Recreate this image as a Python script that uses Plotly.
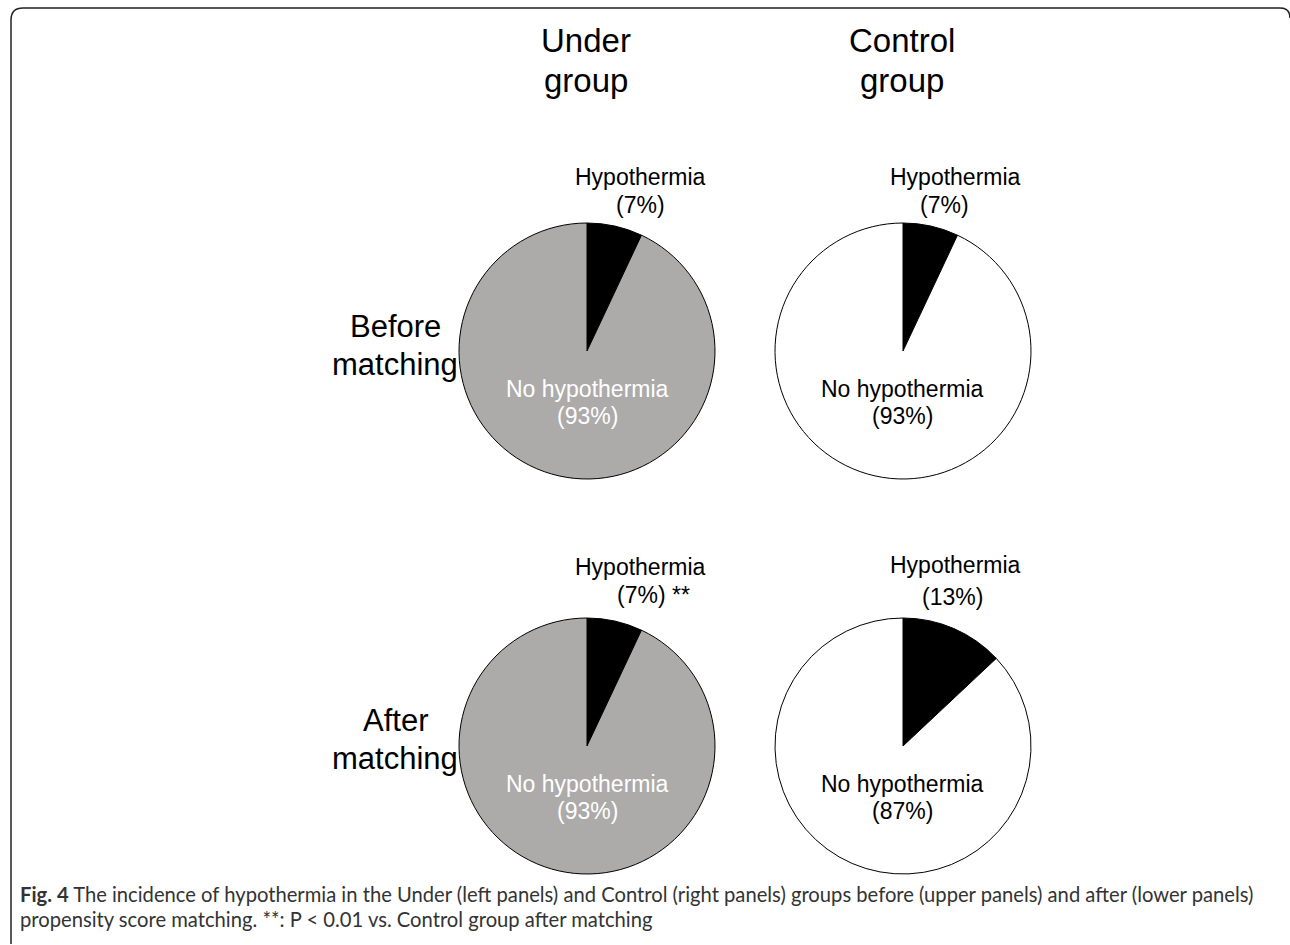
import plotly.graph_objects as go

W, H = 1290, 945

# ---- data ----
groups = ["Under\ngroup", "Control\ngroup"]
rows = ["Before\nmatching", "After\nmatching"]
slice_labels = ["Hypothermia", "No hypothermia"]
under_before = [7, 93]
control_before = [7, 93]
under_after = [7, 93]
control_after = [13, 87]
hypo_text = ["(7%)", "(7%)", "(7%) **", "(13%)"]
nohypo_text = ["(93%)", "(93%)", "(93%)", "(87%)"]
caption1 = ("<b>Fig. 4</b> The incidence of hypothermia in the Under (left panels) and Control (right panels) "
            "groups before (upper panels) and after (lower panels)")
caption2 = "propensity score matching. **: P &lt; 0.01 vs. Control group after matching"

GRAY = "#adaaaa"
ARIAL = "Liberation Sans, Arial, sans-serif"
CAPFONT = "Lato, Open Sans, sans-serif"

def px(x):
    return x / W

def py(y):
    return 1 - y / H

fig = go.Figure()

# pie centres (pixels) and radius
R = 128
centres = [(587, 351), (903, 351), (587, 746), (903, 746)]
values = [under_before, control_before, under_after, control_after]
fills = [GRAY, "white", GRAY, "white"]

for (cx, cy), vals, fill in zip(centres, values, fills):
    fig.add_trace(go.Pie(
        labels=slice_labels, values=vals, sort=False, direction="clockwise", rotation=0,
        marker=dict(colors=["black", fill], line=dict(color="black", width=1)),
        textinfo="none", hoverinfo="label+percent", showlegend=False,
        domain=dict(x=[px(cx - R), px(cx + R)], y=[py(cy + R), py(cy - R)]),
    ))

ann = []

def add_text(x, baseline, text, size, color="black", family=ARIAL, xanchor="center"):
    ann.append(dict(x=px(x), y=py(baseline - 0.35 * size), xref="paper", yref="paper",
                    text=text, showarrow=False, xanchor=xanchor, yanchor="middle",
                    font=dict(family=family, size=size, color=color)))

# column titles
for gx, g in zip([586, 902], groups):
    l1, l2 = g.split("\n")
    add_text(gx, 52, l1, 33)
    add_text(gx, 92, l2, 33)

# row titles
for base, r in zip([337, 731], rows):
    l1, l2 = r.split("\n")
    add_text(395, base, l1, 31)
    add_text(395, base + 38, l2, 31)

# slice labels
hypo_pos = [(640, 185, 640, 213), (955, 185, 944, 213), (640, 575, 615, 603), (955, 573, 952, 605)]
for i, (hx, hb, px2, pb) in enumerate(hypo_pos):
    add_text(hx, hb, slice_labels[0], 23)
    if i == 2:
        add_text(px2, pb, hypo_text[i], 23, xanchor="left")
    else:
        add_text(px2, pb, hypo_text[i], 23)

for i, (cx, cy) in enumerate(centres):
    col = "white" if fills[i] == GRAY else "black"
    add_text(cx, cy + 46, slice_labels[1], 23, color=col)
    add_text(cx, cy + 73, nohypo_text[i], 23, color=col)

# caption
for txt, yc in [(caption1, 894), (caption2, 919)]:
    ann.append(dict(x=px(18), y=py(yc), xref="paper", yref="paper", text=txt, showarrow=False,
                    xanchor="left", yanchor="middle",
                    font=dict(family=CAPFONT, size=20.2, color="#333333")))

# rounded frame
def P(x, y):
    return f"{px(x):.5f},{py(y):.5f}"

frame = (f"M {P(11, 944)} L {P(11, 20)} Q {P(11, 8)} {P(23, 8)} "
         f"L {P(1280, 8)} Q {P(1290, 8)} {P(1290, 18)}")

fig.update_layout(
    width=W, height=H, margin=dict(l=0, r=0, t=0, b=0),
    paper_bgcolor="white", plot_bgcolor="white",
    annotations=ann,
    shapes=[dict(type="path", path=frame, xref="paper", yref="paper",
                 line=dict(color="#222222", width=1.5))],
)

fig.write_html("out.html", config={"displayModeBar": False},
               post_script="document.body.style.margin='0px';document.body.style.overflow='hidden';")
